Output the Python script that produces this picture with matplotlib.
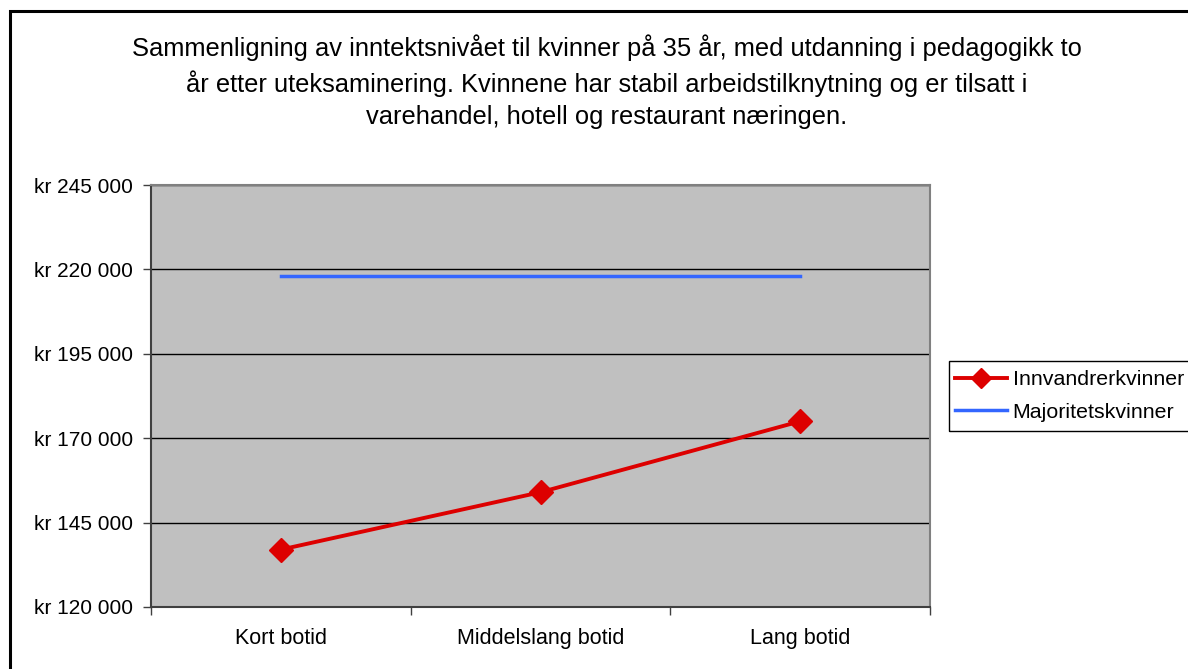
import matplotlib
matplotlib.use("Agg")
import matplotlib.pyplot as plt
from matplotlib.patches import Rectangle
from matplotlib.lines import Line2D

categories = ["Kort botid", "Middelslang botid", "Lang botid"]
innvandrer = [137000, 154000, 175000]
majoritet = [218000, 218000, 218000]
yticks = [120000, 145000, 170000, 195000, 220000, 245000]
series_names = ["Innvandrerkvinner", "Majoritetskvinner"]
title = ("Sammenligning av inntektsnivået til kvinner på 35 år, med utdanning i pedagogikk to\n"
         "år etter uteksaminering. Kvinnene har stabil arbeidstilknytning og er tilsatt i\n"
         "varehandel, hotell og restaurant næringen.")

plt.rcParams['font.family'] = ['Liberation Sans', 'DejaVu Sans']

W, H = 1188, 669
fig = plt.figure(figsize=(W/100, H/100), dpi=100)

# outer chart border
fig.patches.append(Rectangle((10/W, -0.1), 1.2, 1 - 11/H + 0.1, transform=fig.transFigure,
                             fill=False, edgecolor='black', linewidth=2.2))

ax = fig.add_axes([151/W, 1 - 607/H, (930-151)/W, (607-185)/H])
ax.set_facecolor('#C0C0C0')
x = list(range(len(categories)))
ax.plot(x, innvandrer, color='#DD0000', linewidth=2.8, marker='D', markersize=12,
        label=series_names[0], zorder=3)
ax.plot(x, majoritet, color='#3366FF', linewidth=2.5, label=series_names[1], zorder=3)

ax.set_xlim(-0.5, len(categories) - 0.5)
ax.set_ylim(yticks[0], yticks[-1])
ax.set_yticks(yticks)
ax.set_yticklabels([f"kr {v:,}".replace(",", " ") for v in yticks], fontsize=15)
ax.yaxis.grid(True, color='black', linewidth=1.0)
ax.set_axisbelow(True)

ax.set_xticks([i - 0.5 for i in range(len(categories) + 1)])
ax.set_xticklabels([])
ax.set_xticks(x, minor=True)
ax.set_xticklabels(categories, minor=True, fontsize=15.5)
ax.tick_params(axis='x', which='minor', length=0, pad=15)
ax.tick_params(axis='x', which='major', length=6, width=1, color='#404040', direction='out')
ax.tick_params(axis='y', length=6, width=1, color='#404040', direction='out', pad=7)

for s in ['left', 'bottom']:
    ax.spines[s].set_color('#404040')
    ax.spines[s].set_linewidth(1.5)
for s in ['top', 'right']:
    ax.spines[s].set_color('#808080')
    ax.spines[s].set_linewidth(1.5)

fig.text(607/W, 1 - 82/H, title, ha='center', va='center', fontsize=18.4,
         linespacing=1.43)

# legend
fig.patches.append(Rectangle((949/W, 1 - 431/H), 0.5, (431-361)/H, transform=fig.transFigure,
                             fill=False, edgecolor='black', linewidth=1.0))
handles = [Line2D([], [], color='#DD0000', linewidth=2.8, marker='D', markersize=10),
           Line2D([], [], color='#3366FF', linewidth=2.5)]
fig.legend(handles, series_names, loc='center left', bbox_to_anchor=(955/W, 1 - 396/H),
           frameon=False, fontsize=15.4, handlelength=2.45, handletextpad=0.25,
           labelspacing=0.62, borderpad=0.0, borderaxespad=0)

fig.savefig("out.png", dpi=100)
